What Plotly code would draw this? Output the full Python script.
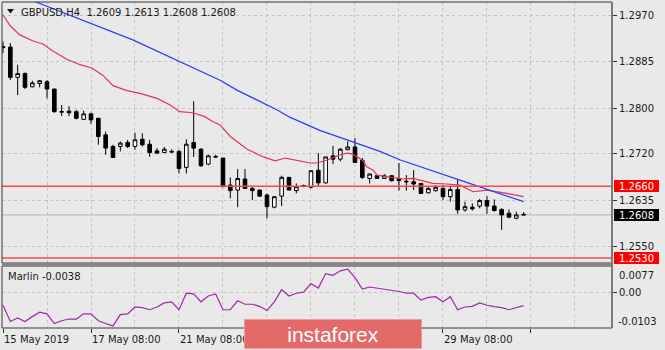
import plotly.graph_objects as go

W, H = 665, 350
ML, MR, MT, MB = 2, 53, 2, 22
PW = W - ML - MR
PH = H - MT - MB


def px_x(px):
    return (px - ML) / PW


def px_y(py):
    return (H - MB - py) / PH


# ---------------- data ----------------
OPEN = [1.2913, 1.2912, 1.2857, 1.2864, 1.2840, 1.2846, 1.2849, 1.2836, 1.2794, 1.2796,
        1.2795, 1.2781, 1.2791, 1.2783, 1.2753, 1.2732, 1.2732, 1.2739, 1.2732, 1.2745,
        1.2736, 1.2724, 1.2721, 1.2723, 1.2723, 1.2694, 1.2739, 1.2727, 1.2700, 1.2714,
        1.2711, 1.2662, 1.2653, 1.2673, 1.2656, 1.2653, 1.2644, 1.2622, 1.2642, 1.2676,
        1.2652, 1.2660, 1.2658, 1.2689, 1.2666, 1.2715, 1.2709, 1.2726, 1.2731, 1.2707,
        1.2674, 1.2679, 1.2674, 1.2679, 1.2674, 1.2669, 1.2668, 1.2665, 1.2648, 1.2652,
        1.2656, 1.2641, 1.2654, 1.2617, 1.2622, 1.2624, 1.2634, 1.2624, 1.2618, 1.2611,
        1.2602, 1.2609]
HIGH = [1.2922, 1.2919, 1.2880, 1.2866, 1.2851, 1.2852, 1.2852, 1.2836, 1.2807, 1.2805,
        1.2798, 1.2797, 1.2793, 1.2783, 1.2759, 1.2735, 1.2741, 1.2744, 1.2757, 1.2756,
        1.2744, 1.2729, 1.2731, 1.2727, 1.2726, 1.2745, 1.2814, 1.2729, 1.2717, 1.2717,
        1.2711, 1.2676, 1.2691, 1.2691, 1.2659, 1.2654, 1.2647, 1.2642, 1.2679, 1.2676,
        1.2665, 1.2663, 1.2689, 1.2720, 1.2713, 1.2733, 1.2729, 1.2741, 1.2747, 1.2711,
        1.2683, 1.2680, 1.2682, 1.2680, 1.2702, 1.2680, 1.2689, 1.2665, 1.2660, 1.2662,
        1.2662, 1.2659, 1.2671, 1.2632, 1.2629, 1.2637, 1.2642, 1.2636, 1.2620, 1.2618,
        1.2614, 1.2613]
LOW = [1.2901, 1.2852, 1.2825, 1.2836, 1.2839, 1.2839, 1.2819, 1.2793, 1.2787, 1.2787,
       1.2781, 1.2780, 1.2773, 1.2735, 1.2717, 1.2711, 1.2723, 1.2729, 1.2726, 1.2732,
       1.2713, 1.2718, 1.2720, 1.2721, 1.2683, 1.2683, 1.2713, 1.2695, 1.2698, 1.2711,
       1.2659, 1.2638, 1.2622, 1.2655, 1.2635, 1.2641, 1.2602, 1.2620, 1.2624, 1.2653,
       1.2647, 1.2658, 1.2656, 1.2660, 1.2665, 1.2700, 1.2705, 1.2726, 1.2702, 1.2673,
       1.2665, 1.2673, 1.2673, 1.2668, 1.2652, 1.2652, 1.2653, 1.2646, 1.2647, 1.2650,
       1.2635, 1.2632, 1.2610, 1.2614, 1.2616, 1.2620, 1.2610, 1.2614, 1.2581, 1.2602,
       1.2600, 1.2608]
CLOSE = [1.2911, 1.2857, 1.2864, 1.2839, 1.2847, 1.2851, 1.2836, 1.2795, 1.2795, 1.2793,
         1.2783, 1.2791, 1.2780, 1.2750, 1.2729, 1.2712, 1.2738, 1.2732, 1.2744, 1.2735,
         1.2721, 1.2720, 1.2727, 1.2722, 1.2692, 1.2736, 1.2729, 1.2697, 1.2715, 1.2713,
         1.2659, 1.2652, 1.2674, 1.2656, 1.2652, 1.2642, 1.2623, 1.2641, 1.2676, 1.2653,
         1.2659, 1.2661, 1.2688, 1.2666, 1.2713, 1.2709, 1.2727, 1.2731, 1.2703, 1.2676,
         1.2682, 1.2674, 1.2679, 1.2670, 1.2670, 1.2668, 1.2664, 1.2647, 1.2656, 1.2658,
         1.2641, 1.2654, 1.2617, 1.2623, 1.2619, 1.2634, 1.2624, 1.2616, 1.2608, 1.2604,
         1.2608, 1.2608]
BARS = list(range(len(OPEN)))

# moving averages (bar position, price)
RED_X = [0, 1.0, 2.3, 4.1, 5.5, 6.8, 8.7, 10.5, 12.1, 13.6,
         15.0, 16.9, 18.7, 21.0, 22.8, 24.1, 25.9, 27.5, 28.6, 29.6,
         31.0, 33.3, 35.5, 37.1, 38.5, 40.5, 41.9, 42.8, 44.3, 46.0,
         46.9, 47.7, 48.3, 49.1, 49.6, 50.5, 51.0, 52.8, 54.5, 55.9,
         56.9, 58.6, 60.5, 62.3, 64.1, 66.0, 68.7, 71.0]
RED_Y = [1.2970, 1.2950, 1.2934, 1.2923, 1.2917, 1.2905, 1.2890, 1.2880, 1.2874, 1.2861,
         1.2842, 1.2833, 1.2828, 1.2819, 1.2807, 1.2795, 1.2793, 1.2786, 1.2777, 1.2771,
         1.2750, 1.2727, 1.2713, 1.2706, 1.2711, 1.2706, 1.2702, 1.2702, 1.2708, 1.2717,
         1.2720, 1.2718, 1.2713, 1.2706, 1.2695, 1.2689, 1.2680, 1.2676, 1.2673, 1.2674,
         1.2671, 1.2665, 1.2664, 1.2662, 1.2650, 1.2653, 1.2647, 1.2641]
BLUE_X = [4.4, 13.2, 17.7, 29.6, 31.9, 37.4, 39.1, 43.2, 46.9, 51.4, 54.1, 56.9, 62.3, 71.0]
BLUE_Y = [1.2994, 1.2948, 1.2925, 1.2852, 1.2834, 1.2798, 1.2785, 1.2761, 1.2744, 1.2723,
          1.2708, 1.2695, 1.2671, 1.2632]

MARLIN = [-0.0037, -0.0084, -0.0074, -0.0084, -0.0070, -0.0057, -0.0062, -0.0090, -0.0082, -0.0077,
          -0.0077, -0.0062, -0.0062, -0.0082, -0.0090, -0.0097, -0.0064, -0.0062, -0.0042, -0.0044,
          -0.0050, -0.0042, -0.0030, -0.0027, -0.0050, -0.0002, -0.0004, -0.0027, -0.0010, -0.0004,
          -0.0050, -0.0050, -0.0024, -0.0034, -0.0034, -0.0040, -0.0052, -0.0027, 0.0008, -0.0010,
          -0.0002, 0.0001, 0.0026, 0.0013, 0.0055, 0.0050, 0.0063, 0.0068, 0.0043, 0.0010,
          0.0016, 0.0013, 0.0010, 0.0008, 0.0003, -0.0002, -0.0002, -0.0022, -0.0014, -0.0012,
          -0.0027, -0.0012, -0.0050, -0.0042, -0.0040, -0.0030, -0.0037, -0.0041, -0.0044, -0.0050,
          -0.0044, -0.0038]

LEVELS = [1.2660, 1.2530]
PRICE_TICKS = [1.2970, 1.2885, 1.2800, 1.2720, 1.2635, 1.2550]
MARLIN_MAX, MARLIN_MIN = 0.0077, -0.0103
X_LABEL_POS = [0, 12, 24, 60]
X_LABEL_TEXT = ["15 May 2019", "17 May 08:00", "21 May 08:00", "29 May 08:00"]

# ---------------- style ----------------
BG = "#e9e9e9"
GRID = "#c4c4c4"
FONT = "DejaVu Sans"
TXT = "#1a1a1a"
RED_MA = "rgb(228,52,84)"
BLUE_MA = "rgb(40,60,255)"
MARLIN_C = "rgb(160,40,170)"
LEVEL_C = "rgb(255,70,70)"

MAIN_BOT = px_y(263)
LOW_TOP = px_y(266)

fig = go.Figure()
fig.add_trace(go.Candlestick(
    x=BARS, open=OPEN, high=HIGH, low=LOW, close=CLOSE,
    increasing=dict(line=dict(color="#000000", width=1), fillcolor="#ffffff"),
    decreasing=dict(line=dict(color="#000000", width=1), fillcolor="#000000"),
    whiskerwidth=0, showlegend=False, hoverinfo="skip", xaxis="x", yaxis="y"))
fig.add_trace(go.Scatter(x=RED_X, y=RED_Y, mode="lines", line=dict(color=RED_MA, width=1.2),
                         showlegend=False, hoverinfo="skip", yaxis="y"))
fig.add_trace(go.Scatter(x=BLUE_X, y=BLUE_Y, mode="lines", line=dict(color=BLUE_MA, width=1.2),
                         showlegend=False, hoverinfo="skip", yaxis="y"))
fig.add_trace(go.Scatter(x=BARS, y=MARLIN, mode="lines", line=dict(color=MARLIN_C, width=1.2),
                         showlegend=False, hoverinfo="skip", yaxis="y2"))

major = list(range(0, 85, 12))
minor = list(range(6, 85, 12))
x_lo = (ML - 3) / 7.333
x_hi = (W - MR - 3) / 7.333

p_top = PRICE_TICKS[0] + (15 - MT) / 5523
p_bot = LEVELS[1] - (263 - 258) / 5523

fig.update_layout(
    width=W, height=H,
    margin=dict(l=ML, r=MR, t=MT, b=MB),
    paper_bgcolor=BG, plot_bgcolor=BG,
    font=dict(family=FONT, size=10, color=TXT),
    showlegend=False,
    xaxis=dict(range=[x_lo, x_hi], anchor="y2", tickvals=major, showticklabels=False,
               ticks="outside", ticklen=4, tickcolor="#333",
               showgrid=True, gridcolor=GRID, griddash="3px,3px", gridwidth=1,
               minor=dict(tickvals=minor, showgrid=True, gridcolor=GRID, griddash="3px,3px", ticks=""),
               zeroline=False, showline=False, rangeslider=dict(visible=False), fixedrange=True),
    yaxis=dict(domain=[MAIN_BOT, 1], range=[p_bot, p_top], side="right", anchor="x",
               tickvals=PRICE_TICKS, ticktext=[f"{v:.4f}" for v in PRICE_TICKS],
               ticks="outside", ticklen=4, tickcolor="#333",
               showgrid=True, gridcolor=GRID, griddash="3px,3px",
               zeroline=False, showline=False, tickfont=dict(size=10, color=TXT, family=FONT)),
    yaxis2=dict(domain=[0, LOW_TOP], range=[MARLIN_MIN, MARLIN_MAX], side="right", anchor="x",
                tickvals=[0], ticktext=["0.00"], ticks="outside", ticklen=4, tickcolor="#333",
                showgrid=True, gridcolor=GRID, griddash="3px,3px",
                zeroline=False, showline=False, tickfont=dict(size=10, color=TXT, family=FONT)),
)

shapes = []
# bid line
shapes.append(dict(type="line", xref="paper", x0=0, x1=1, yref="y", y0=CLOSE[-1], y1=CLOSE[-1],
                   line=dict(color="#b4b4b4", width=1), layer="between"))
for lv in LEVELS:
    shapes.append(dict(type="line", xref="paper", x0=0, x1=1, yref="y", y0=lv, y1=lv,
                       line=dict(color=LEVEL_C, width=1.6), layer="above"))
# pane frames
shapes.append(dict(type="rect", xref="paper", yref="paper", x0=0, x1=1, y0=MAIN_BOT, y1=1,
                   line=dict(color="#3a3a3a", width=1), fillcolor="rgba(0,0,0,0)", layer="above"))
shapes.append(dict(type="rect", xref="paper", yref="paper", x0=0, x1=1, y0=0, y1=LOW_TOP,
                   line=dict(color="#3a3a3a", width=1), fillcolor="rgba(0,0,0,0)", layer="above"))
shapes.append(dict(type="rect", xref="paper", yref="paper", x0=0, x1=1, y0=LOW_TOP, y1=MAIN_BOT,
                   line=dict(width=0), fillcolor="#858585", layer="above"))
shapes.append(dict(type="line", xref="paper", yref="paper", x0=1, x1=1, y0=0, y1=1,
                   line=dict(color="#7a7a7a", width=2), layer="above"))
# title triangle
tri = (f"M {px_x(7)},{px_y(9)} L {px_x(14)},{px_y(9)} L {px_x(10.5)},{px_y(13.5)} Z")
shapes.append(dict(type="path", xref="paper", yref="paper", path=tri,
                   fillcolor="#111", line=dict(width=0), layer="above"))
fig.update_layout(shapes=shapes)

ann = []
ann.append(dict(xref="paper", yref="paper", x=px_x(19), y=px_y(12), xanchor="left", yanchor="middle",
                text=f"GBPUSD,H4\u00a0\u00a0{OPEN[-1]:.4f} {HIGH[-1]:.4f} {LOW[-1]:.4f} {CLOSE[-1]:.4f}",
                showarrow=False, font=dict(family=FONT, size=10, color=TXT)))
ann.append(dict(xref="paper", yref="paper", x=px_x(6), y=px_y(276.5), xanchor="left", yanchor="middle",
                text=f"Marlin {MARLIN[-1]:.4f}", showarrow=False,
                font=dict(family=FONT, size=10, color=TXT)))
for pos, txt in zip(X_LABEL_POS, X_LABEL_TEXT):
    ann.append(dict(xref="x", yref="paper", x=pos, y=px_y(339), xanchor="left", yanchor="middle",
                    xshift=-1, text=txt, showarrow=False, font=dict(family=FONT, size=10, color=TXT)))
# lower pane extreme labels
ann.append(dict(xref="paper", yref="paper", x=px_x(616.5), y=px_y(275), xanchor="left", yanchor="middle",
                text=f"{MARLIN_MAX:.4f}", showarrow=False, font=dict(family=FONT, size=10, color=TXT)))
ann.append(dict(xref="paper", yref="paper", x=px_x(616), y=px_y(321), xanchor="left", yanchor="middle",
                text=f"{MARLIN_MIN:.4f}", showarrow=False, font=dict(family=FONT, size=10, color=TXT)))
# price tags
for val, bg in [(LEVELS[0], "#ff0000"), (CLOSE[-1], "#000000"), (LEVELS[1], "#ff0000")]:
    ann.append(dict(xref="paper", yref="y", x=px_x(614), y=val, xanchor="left", yanchor="middle",
                    text=f"{val:.4f}", showarrow=False, bgcolor=bg, width=45, height=12,
                    borderpad=0, borderwidth=0, align="center",
                    font=dict(family=FONT, size=10, color="#ffffff")))
# watermark
ann.append(dict(xref="paper", yref="paper", x=px_x(333), y=px_y(334), xanchor="center", yanchor="middle",
                text="instaforex", showarrow=False, bgcolor="#e46a6a", bordercolor="#ec9a9a",
                borderwidth=1, borderpad=0, width=176, height=28,
                font=dict(family="Liberation Sans", size=21, color="#ffffff")))
fig.update_layout(annotations=ann)

fig.write_html("out.html")
